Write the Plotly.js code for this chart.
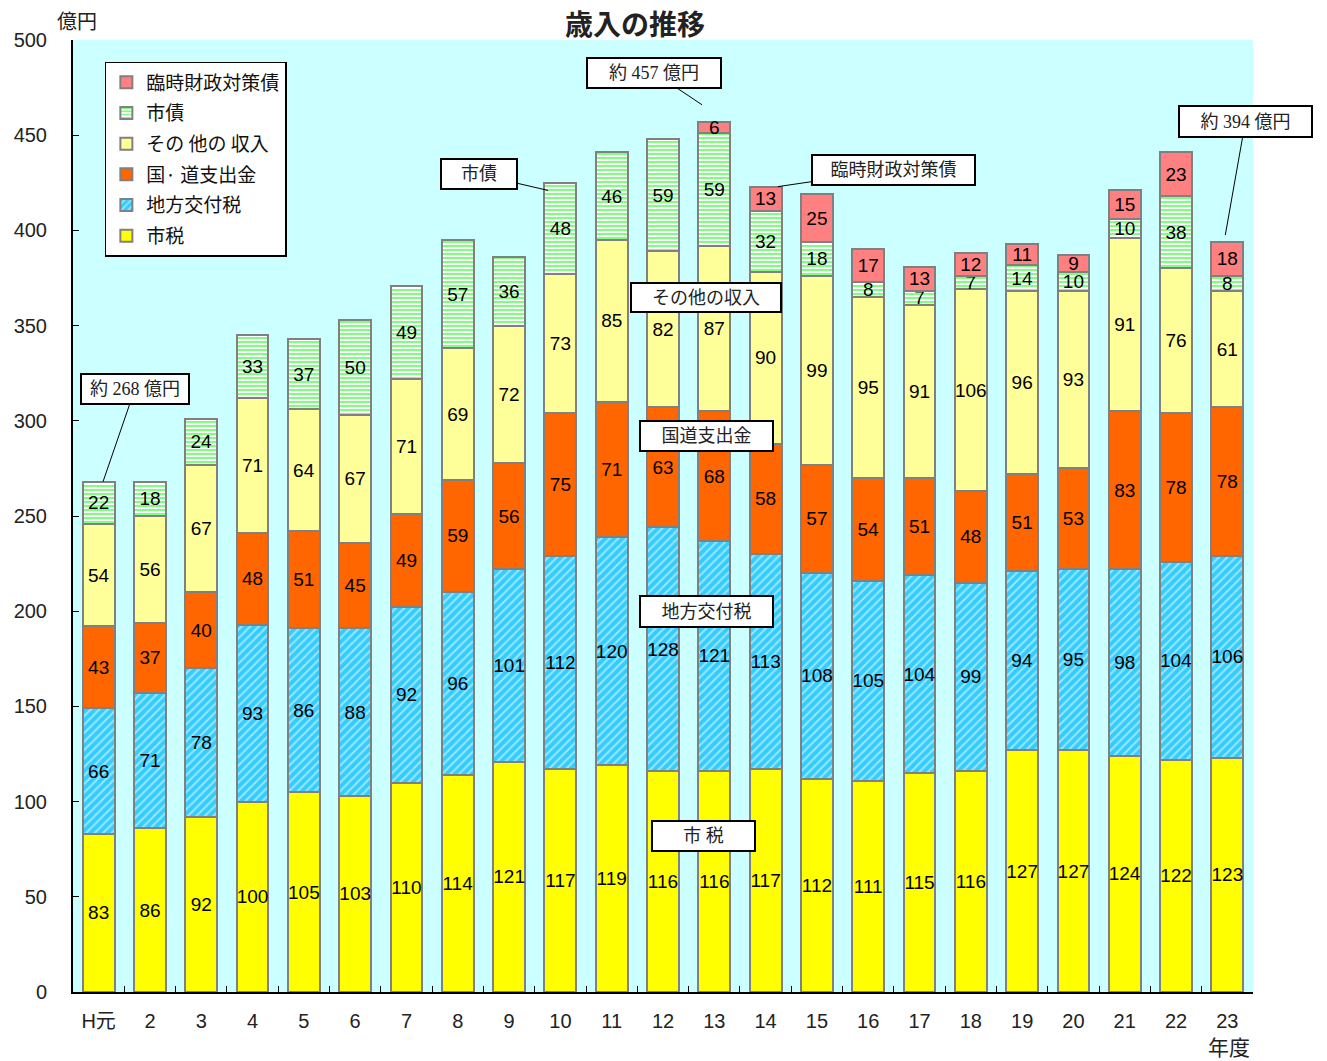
<!DOCTYPE html>
<html>
<head>
<meta charset="utf-8">
<script src="https://cdn.plot.ly/plotly-3.0.1.min.js"></script>
<style>
  body { margin: 0; background: #fff; }
  #chart { width: 1327px; height: 1061px; }
</style>
</head>
<body>
<div id="chart"></div>
<script>
// 年度
var years = ['H元', '2', '3', '4', '5', '6', '7', '8', '9', '10', '11', '12',
             '13', '14', '15', '16', '17', '18', '19', '20', '21', '22', '23'];

// 億円
var shizei      = [83, 86, 92, 100, 105, 103, 110, 114, 121, 117, 119, 116, 116, 117, 112, 111, 115, 116, 127, 127, 124, 122, 123];
var koufuzei    = [66, 71, 78, 93, 86, 88, 92, 96, 101, 112, 120, 128, 121, 113, 108, 105, 104, 99, 94, 95, 98, 104, 106];
var shishutsu   = [43, 37, 40, 48, 51, 45, 49, 59, 56, 75, 71, 63, 68, 58, 57, 54, 51, 48, 51, 53, 83, 78, 78];
var sonota      = [54, 56, 67, 71, 64, 67, 71, 69, 72, 73, 85, 82, 87, 90, 99, 95, 91, 106, 96, 93, 91, 76, 61];
var shisai      = [22, 18, 24, 33, 37, 50, 49, 57, 36, 48, 46, 59, 59, 32, 18, 8, 7, 7, 14, 10, 10, 38, 8];
var rinji       = [null, null, null, null, null, null, null, null, null, null, null, null, 6, 13, 25, 17, 13, 12, 11, 9, 15, 23, 18];

var numFont = {family: 'Liberation Sans, Arial, sans-serif', size: 19, color: '#000'};
var jpFont = 'Noto Sans CJK JP, sans-serif';
var boxFont = 'Liberation Serif, Noto Sans CJK JP, serif';

function labels(arr) {
	return arr.map(function (v) { return v == null ? '' : String(v); });
}

function barTrace(name, values, rank, marker) {
	marker.line = {color: '#808080', width: 2};
	return {
		type: 'bar',
		name: name,
		legendgroup: name,
		legendrank: rank,
		x: years,
		y: values,
		text: labels(values),
		textposition: 'inside',
		insidetextanchor: 'middle',
		textangle: 0,
		constraintext: 'none',
		textfont: numFont,
		hoverinfo: 'x+y+name',
		marker: marker
	};
}

var data = [
	barTrace('市税', shizei, 6, {color: '#FFFF00'}),
	barTrace('地方交付税', koufuzei, 5, {
		color: '#33CCFF',
		pattern: {shape: '/', bgcolor: '#33CCFF', fgcolor: '#FFFFFF', size: 6, solidity: 0.35, fillmode: 'overlay'}
	}),
	barTrace('国· 道支出金', shishutsu, 4, {color: '#FF6600'}),
	barTrace('その 他の 収入', sonota, 3, {color: '#FFFF99'}),
	barTrace('市債', shisai, 2, {
		color: '#FFFFFF',
		pattern: {shape: '-', bgcolor: '#FFFFFF', fgcolor: '#00FF00', size: 4, solidity: 0.5, fillmode: 'overlay'}
	}),
	barTrace('臨時財政対策債', rinji, 1, {color: '#FF8080'})
];

function boxNote(text, x, y, w, h, xref, yref, extra) {
	var a = {
		text: text,
		x: x, y: y,
		xref: xref, yref: yref,
		xanchor: 'center', yanchor: 'middle',
		showarrow: false,
		width: w - 4, height: h - 4,
		bgcolor: '#FFFFFF',
		bordercolor: '#000000',
		borderwidth: 2,
		borderpad: 0,
		font: {family: boxFont, size: 18, color: '#222'}
	};
	for (var k in extra) a[k] = extra[k];
	return a;
}

function arrowNote(text, tipIdx, tipVal, ax, ay, w, h) {
	return boxNote(text, tipIdx, tipVal, w, h, 'x', 'y', {
		showarrow: true, arrowhead: 0, arrowwidth: 1, arrowcolor: '#000',
		ax: ax, ay: ay, standoff: 0
	});
}

var annotations = [
	arrowNote('約 268 億円', 0.085, 268, 32, -93, 110, 32),
	arrowNote('市債', 8.76, 421, -69, -16, 78, 32),
	arrowNote('約 457 億円', 11.76, 466, -48, -32, 136, 32),
	arrowNote('臨時財政対策債', 13.24, 423, 116, -17, 165, 32),
	arrowNote('約 394 億円', 21.96, 397.6, 20, -113, 135, 33),
	boxNote('その他の収入', 0.5364, 0.730, 152, 31, 'paper', 'paper', {}),
	boxNote('国道支出金', 0.537, 0.584, 135, 32, 'paper', 'paper', {}),
	boxNote('地方交付税', 0.537, 0.400, 135, 33, 'paper', 'paper', {}),
	boxNote('市 税', 0.5347, 0.164, 105, 32, 'paper', 'paper', {}),
	{
		text: '億円', xref: 'paper', yref: 'paper', x: 0.0034, y: 1.021,
		xanchor: 'center', yanchor: 'middle',
		showarrow: false, font: {family: jpFont, size: 20, color: '#222'}
	},
	{
		text: '年度', xref: 'paper', yref: 'paper', x: 0.9797, y: -0.0567,
		xanchor: 'center', yanchor: 'middle',
		showarrow: false, font: {family: jpFont, size: 21, color: '#222'}
	}
];

var layout = {
	width: 1327,
	height: 1061,
	margin: {l: 73, r: 74, t: 40, b: 69},
	paper_bgcolor: '#FFFFFF',
	plot_bgcolor: '#CCFFFF',
	title: {
		text: '<b>歳入の推移</b>',
		font: {family: jpFont, size: 28, color: '#222'},
		x: 0.4785, xref: 'container', xanchor: 'center',
		y: 0.976, yref: 'container', yanchor: 'middle'
	},
	barmode: 'stack',
	bargap: 0.38,
	showlegend: true,
	legend: {
		x: 0.027, y: 0.977, xanchor: 'left', yanchor: 'top',
		traceorder: 'grouped',
		tracegroupgap: 3,
		bgcolor: '#FFFFFF',
		bordercolor: '#000000',
		borderwidth: 1.5,
		font: {family: jpFont, size: 19, color: '#111'},
		itemwidth: 30
	},
	uniformtext: {mode: 'show', minsize: 19},
	xaxis: {
		type: 'category',
		range: [-0.5, 22.5],
		showline: true,
		linecolor: '#000',
		linewidth: 2,
		ticks: 'inside',
		tickson: 'boundaries',
		ticklen: 6,
		tickcolor: '#000',
		showgrid: false,
		ticklabelstandoff: 10,
		tickfont: {family: 'Liberation Sans, ' + jpFont, size: 20, color: '#222'}
	},
	yaxis: {
		range: [0, 500],
		dtick: 50,
		showline: true,
		linecolor: '#000',
		linewidth: 2,
		ticks: 'inside',
		ticklen: 6,
		tickcolor: '#000',
		showgrid: false,
		zeroline: false,
		ticklabelstandoff: 20,
		tickfont: {family: 'Liberation Sans, sans-serif', size: 20, color: '#222'}
	},
	annotations: annotations
};

Plotly.newPlot('chart', data, layout, {displayModeBar: false});
</script>
</body>
</html>
